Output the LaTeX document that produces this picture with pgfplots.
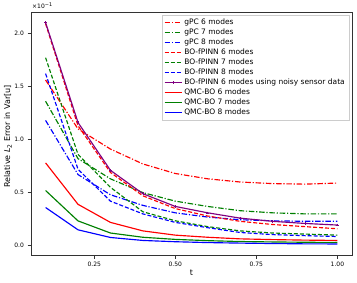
\documentclass[border=0pt]{standalone}
\usepackage{fontspec}
\setmainfont{DejaVu Sans}
\usepackage{pgfplots}
\pgfplotsset{compat=1.18}
\definecolor{mplgreen}{rgb}{0,0.5,0}
\definecolor{mplpurple}{rgb}{0.5,0,0.5}
\begin{document}
\begin{tikzpicture}
\begin{axis}[name=ax, scale only axis, width=321pt, height=243pt,
 xmin=0.055, xmax=1.045, ymin=-0.087, ymax=2.20,
 xtick={0.25,0.5,0.75,1.0}, xticklabels={0.25,0.50,0.75,1.00},
 ytick={0,0.5,1,1.5,2}, yticklabels={0.0,0.5,1.0,1.5,2.0},
 tick pos=left, tick align=outside, major tick length=3.5pt,
 every tick/.style={black!80, line width=0.6pt},
 axis line style={black!80, line width=0.6pt},
 ticklabel style={font=\fontsize{6}{7}\selectfont},
 /pgf/number format/assume math mode=true,
 xlabel={t}, ylabel={Relative {\itshape L}\textsubscript{2} Error in Var[u]},
 label style={font=\fontsize{8}{9.6}\selectfont},
 xlabel style={at={(axis description cs:0.5,-0.074)}, anchor=center},
 ylabel style={at={(axis description cs:-0.072,0.488)}, anchor=center},
 legend style={at={(1,1)}, xshift=-3pt, yshift=-3pt, anchor=north east,
   draw=black!20, font=\fontsize{7.5}{11.2}\selectfont,
   inner xsep=2pt, inner ysep=2pt, row sep=-1.2pt},
 legend cell align=left,
 every axis plot/.append style={line width=1.15pt},
]
% gPC (dash-dot)
\addplot[color=red, dash pattern=on 5.5pt off 1.8pt on 1.2pt off 1.8pt] coordinates {(0.1,1.56)(0.2,1.10)(0.3,0.91)(0.4,0.77)(0.5,0.68)(0.6,0.63)(0.7,0.60)(0.8,0.585)(0.9,0.58)(1.0,0.59)};
\addlegendentry{gPC 6 modes}
\addplot[color=mplgreen, dash pattern=on 5.5pt off 1.8pt on 1.2pt off 1.8pt] coordinates {(0.1,1.36)(0.2,0.82)(0.3,0.63)(0.4,0.50)(0.5,0.42)(0.6,0.37)(0.7,0.33)(0.8,0.31)(0.9,0.30)(1.0,0.30)};
\addlegendentry{gPC 7 modes}
\addplot[color=blue, dash pattern=on 5.5pt off 1.8pt on 1.2pt off 1.8pt] coordinates {(0.1,1.18)(0.2,0.67)(0.3,0.48)(0.4,0.38)(0.5,0.31)(0.6,0.27)(0.7,0.245)(0.8,0.235)(0.9,0.23)(1.0,0.23)};
\addlegendentry{gPC 8 modes}
% BO-fPINN (dashed)
\addplot[color=red, dash pattern=on 4pt off 2pt] coordinates {(0.1,2.09)(0.2,1.13)(0.3,0.69)(0.4,0.47)(0.5,0.35)(0.6,0.28)(0.7,0.23)(0.8,0.20)(0.9,0.18)(1.0,0.16)};
\addlegendentry{BO-fPINN 6 modes}
\addplot[color=mplgreen, dash pattern=on 4pt off 2pt] coordinates {(0.1,1.77)(0.2,0.86)(0.3,0.55)(0.4,0.32)(0.5,0.235)(0.6,0.18)(0.7,0.14)(0.8,0.12)(0.9,0.11)(1.0,0.10)};
\addlegendentry{BO-fPINN 7 modes}
\addplot[color=blue, dash pattern=on 4pt off 2pt] coordinates {(0.1,1.62)(0.2,0.72)(0.3,0.42)(0.4,0.30)(0.5,0.22)(0.6,0.17)(0.7,0.125)(0.8,0.105)(0.9,0.095)(1.0,0.087)};
\addlegendentry{BO-fPINN 8 modes}
\addplot[color=mplpurple, mark=+, mark size=1.3pt, mark options={solid, line width=0.6pt}] coordinates {(0.1,2.10)(0.2,1.16)(0.3,0.71)(0.4,0.49)(0.5,0.37)(0.6,0.31)(0.7,0.26)(0.8,0.23)(0.9,0.21)(1.0,0.195)};
\addlegendentry{BO-fPINN 6 modes using noisy sensor data}
% QMC-BO (solid)
\addplot[color=red] coordinates {(0.1,0.78)(0.2,0.39)(0.3,0.22)(0.4,0.14)(0.5,0.10)(0.6,0.08)(0.7,0.065)(0.8,0.058)(0.9,0.053)(1.0,0.05)};
\addlegendentry{QMC-BO 6 modes}
\addplot[color=mplgreen] coordinates {(0.1,0.52)(0.2,0.234)(0.3,0.12)(0.4,0.08)(0.5,0.06)(0.6,0.048)(0.7,0.04)(0.8,0.036)(0.9,0.033)(1.0,0.031)};
\addlegendentry{QMC-BO 7 modes}
\addplot[color=blue] coordinates {(0.1,0.36)(0.2,0.15)(0.3,0.078)(0.4,0.05)(0.5,0.038)(0.6,0.03)(0.7,0.025)(0.8,0.021)(0.9,0.018)(1.0,0.017)};
\addlegendentry{QMC-BO 8 modes}
\end{axis}
\node[anchor=south west, font=\fontsize{6}{7}\selectfont, inner sep=0pt] at ([xshift=1pt, yshift=3pt]ax.north west) {×10\textsuperscript{−1}};
\pgfresetboundingbox
\path ([xshift=-31pt, yshift=-27pt]ax.south west) rectangle ([xshift=5pt, yshift=12pt]ax.north east);
\end{tikzpicture}
\end{document}
